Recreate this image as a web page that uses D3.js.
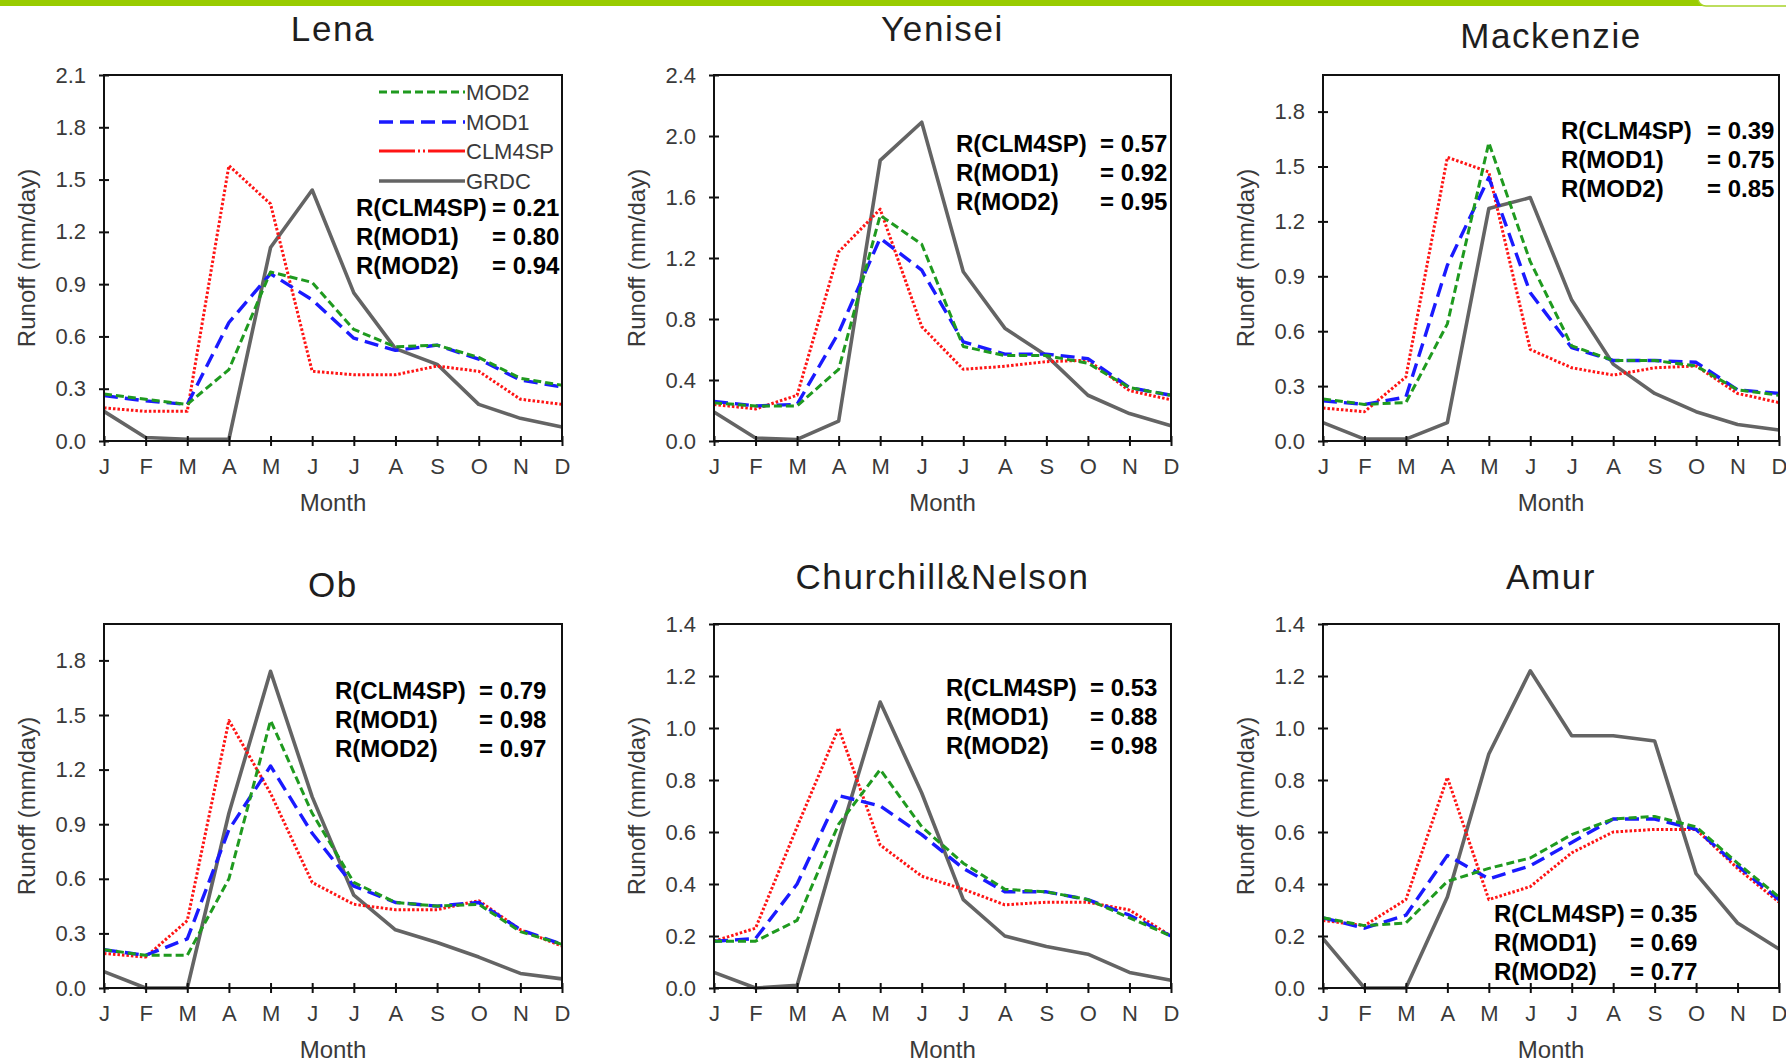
<!DOCTYPE html>
<html>
<head>
<meta charset="utf-8">
<script src="https://cdn.jsdelivr.net/npm/d3@7"></script>
<style>
  body { margin: 0; background: #fff; }
  svg { display: block; }
  text { font-family: Arial, "Liberation Sans", Helvetica, sans-serif; }
</style>
</head>
<body>
<svg id="chart" width="1786" height="1062"></svg>
<script>
// ---- data -------------------------------------------------------------
const months = ["J", "F", "M", "A", "M", "J", "J", "A", "S", "O", "N", "D"];
const basins = ["Lena", "Yenisei", "Mackenzie", "Ob", "Churchill&Nelson", "Amur"];
const yMax  = [2.1, 2.4, 2.0, 2.0, 1.4, 1.4];
const yStep = [0.3, 0.4, 0.3, 0.3, 0.2, 0.2];

// monthly mean runoff (mm/day), one row per basin in the order above
const GRDC = [
  [0.17, 0.02, 0.01, 0.01, 1.11, 1.44, 0.85, 0.53, 0.44, 0.21, 0.13, 0.08],
  [0.19, 0.02, 0.01, 0.13, 1.84, 2.09, 1.11, 0.74, 0.56, 0.30, 0.18, 0.10],
  [0.10, 0.01, 0.01, 0.10, 1.27, 1.33, 0.77, 0.42, 0.26, 0.16, 0.09, 0.06],
  [0.09, 0.00, 0.00, 0.96, 1.74, 1.05, 0.51, 0.32, 0.25, 0.17, 0.08, 0.05],
  [0.06, 0.00, 0.01, 0.57, 1.10, 0.75, 0.34, 0.20, 0.16, 0.13, 0.06, 0.03],
  [0.19, 0.00, 0.00, 0.35, 0.90, 1.22, 0.97, 0.97, 0.95, 0.44, 0.25, 0.15]
];
const CLM4SP = [
  [0.19, 0.17, 0.17, 1.58, 1.36, 0.40, 0.38, 0.38, 0.43, 0.40, 0.24, 0.21],
  [0.24, 0.21, 0.30, 1.24, 1.52, 0.75, 0.47, 0.49, 0.52, 0.53, 0.33, 0.27],
  [0.18, 0.16, 0.35, 1.55, 1.47, 0.50, 0.40, 0.36, 0.40, 0.41, 0.26, 0.21],
  [0.19, 0.17, 0.37, 1.47, 1.07, 0.58, 0.46, 0.43, 0.43, 0.48, 0.32, 0.23],
  [0.18, 0.23, 0.62, 1.00, 0.55, 0.43, 0.38, 0.32, 0.33, 0.33, 0.30, 0.20],
  [0.26, 0.24, 0.34, 0.81, 0.34, 0.39, 0.52, 0.60, 0.61, 0.61, 0.46, 0.33]
];
const MOD1 = [
  [0.26, 0.23, 0.21, 0.68, 0.96, 0.81, 0.59, 0.52, 0.55, 0.47, 0.35, 0.31],
  [0.26, 0.23, 0.24, 0.71, 1.33, 1.12, 0.65, 0.57, 0.57, 0.54, 0.35, 0.30],
  [0.22, 0.20, 0.24, 0.96, 1.44, 0.81, 0.51, 0.44, 0.44, 0.43, 0.28, 0.26],
  [0.21, 0.18, 0.27, 0.87, 1.22, 0.85, 0.56, 0.47, 0.45, 0.47, 0.32, 0.24],
  [0.18, 0.19, 0.40, 0.74, 0.70, 0.59, 0.46, 0.37, 0.37, 0.34, 0.28, 0.20],
  [0.27, 0.23, 0.28, 0.51, 0.42, 0.47, 0.56, 0.65, 0.65, 0.61, 0.47, 0.34]
];
const MOD2 = [
  [0.27, 0.24, 0.21, 0.41, 0.97, 0.91, 0.64, 0.54, 0.55, 0.48, 0.36, 0.32],
  [0.25, 0.23, 0.23, 0.47, 1.48, 1.29, 0.62, 0.56, 0.56, 0.51, 0.35, 0.30],
  [0.23, 0.20, 0.21, 0.64, 1.63, 0.98, 0.52, 0.44, 0.44, 0.41, 0.28, 0.25],
  [0.21, 0.18, 0.18, 0.60, 1.47, 0.96, 0.58, 0.47, 0.45, 0.46, 0.31, 0.24],
  [0.18, 0.18, 0.26, 0.63, 0.84, 0.62, 0.48, 0.38, 0.37, 0.34, 0.27, 0.20],
  [0.27, 0.24, 0.25, 0.41, 0.46, 0.50, 0.59, 0.65, 0.66, 0.62, 0.48, 0.35]
];

// correlation with GRDC observations
const rCLM4SP = [0.21, 0.57, 0.39, 0.79, 0.53, 0.35];
const rMOD1   = [0.80, 0.92, 0.75, 0.98, 0.88, 0.69];
const rMOD2   = [0.94, 0.95, 0.85, 0.97, 0.98, 0.77];

// ---- layout -----------------------------------------------------------
const colX0 = [104, 714, 1323], colX1 = [562, 1171, 1779];
const rowY0 = [75, 624],        rowY1 = [441, 988];
const titleY = [41, 41, 48, 597, 589, 589];
// stats block: x of "R(...)", x of "= value", y of first line
const statX  = [356, 956, 1561, 335, 946, 1494];
const statEq = [492, 1100, 1707, 479, 1090, 1630];
const statY  = [207, 143, 130, 690, 687, 913];
const statGap = 29;

const styles = [
  { name: "GRDC",   data: GRDC,   color: "#646464", width: 3.6, dash: null },
  { name: "CLM4SP", data: CLM4SP, color: "#ff1414", width: 3.0, dash: "2.5,2" },
  { name: "MOD1",   data: MOD1,   color: "#1a1aff", width: 3.4, dash: "14,7" },
  { name: "MOD2",   data: MOD2,   color: "#1f9a1f", width: 3.0, dash: "8,4" }
];

const svg = d3.select("#chart");
const fmt = d3.format(".1f");

// header band
svg.append("rect").attr("x", 0).attr("y", 0).attr("width", 1786).attr("height", 6).attr("fill", "#99cc00");
svg.append("rect").attr("x", 1698).attr("y", -12).attr("width", 100).attr("height", 18).attr("rx", 8)
  .attr("fill", "#fff").attr("stroke", "#a8d42a").attr("stroke-width", 1.5);

basins.forEach((name, i) => {
  const col = i % 3, row = Math.floor(i / 3);
  const x0 = colX0[col], x1 = colX1[col], y0 = rowY0[row], y1 = rowY1[row];
  const g = svg.append("g");

  const x = d3.scaleLinear().domain([0, 11]).range([x0, x1]);
  const y = d3.scaleLinear().domain([0, yMax[i]]).range([y1, y0]);
  const ticks = d3.range(0, yMax[i] + 1e-6, yStep[i]).filter(v => v <= yMax[i] + 1e-6);

  // title
  g.append("text").attr("x", (x0 + x1) / 2).attr("y", titleY[i])
    .attr("text-anchor", "middle").attr("font-size", 35).attr("letter-spacing", 1.6)
    .attr("fill", "#1e1e1e").text(name);

  // series
  const line = d3.line().x((d, k) => x(k)).y(d => y(d));
  styles.forEach(s => {
    g.append("path").attr("d", line(s.data[i]))
      .attr("fill", "none").attr("stroke", s.color).attr("stroke-width", s.width)
      .attr("stroke-linejoin", "round")
      .attr("stroke-dasharray", s.dash);
  });

  // frame
  g.append("rect").attr("x", x0).attr("y", y0).attr("width", x1 - x0).attr("height", y1 - y0)
    .attr("fill", "none").attr("stroke", "#111").attr("stroke-width", 2);

  // y axis
  const ya = g.append("g").attr("transform", `translate(${x0},0)`)
    .call(d3.axisLeft(y).tickValues(ticks).tickFormat(fmt).tickSizeInner(5).tickSizeOuter(0).tickPadding(13));
  ya.select(".domain").remove();
  ya.selectAll(".tick line").attr("x1", -5).attr("x2", 5).attr("stroke", "#111").attr("stroke-width", 2);
  ya.selectAll(".tick text").attr("font-size", 22).attr("fill", "#3a3a3a")
    .attr("font-family", "Arial, 'Liberation Sans', sans-serif");

  // x axis
  const xa = g.append("g").attr("transform", `translate(0,${y1})`)
    .call(d3.axisBottom(x).tickValues(d3.range(12)).tickFormat(k => months[k]).tickSizeInner(5).tickSizeOuter(0).tickPadding(12));
  xa.select(".domain").remove();
  xa.selectAll(".tick line").attr("y1", -5).attr("y2", 5).attr("stroke", "#111").attr("stroke-width", 2);
  xa.selectAll(".tick text").attr("font-size", 22).attr("fill", "#3a3a3a")
    .attr("font-family", "Arial, 'Liberation Sans', sans-serif");

  // axis titles
  g.append("text").attr("x", (x0 + x1) / 2).attr("y", y1 + 70)
    .attr("text-anchor", "middle").attr("font-size", 24).attr("fill", "#3a3a3a").text("Month");
  g.append("text")
    .attr("transform", `translate(${x0 - 78},${(y0 + y1) / 2}) rotate(-90)`)
    .attr("text-anchor", "middle").attr("dominant-baseline", "central")
    .attr("font-size", 24).attr("fill", "#3a3a3a").text("Runoff (mm/day)");

  // correlation block
  const stats = [["R(CLM4SP)", rCLM4SP[i]], ["R(MOD1)", rMOD1[i]], ["R(MOD2)", rMOD2[i]]];
  stats.forEach(([lab, v], k) => {
    const ty = statY[i] + k * statGap;
    g.append("text").attr("x", statX[i]).attr("y", ty).attr("dominant-baseline", "central")
      .attr("font-size", 24).attr("font-weight", "bold").attr("fill", "#000").text(lab);
    g.append("text").attr("x", statEq[i]).attr("y", ty).attr("dominant-baseline", "central")
      .attr("font-size", 24).attr("font-weight", "bold").attr("fill", "#000").text("= " + d3.format(".2f")(v));
  });

  // legend (first panel only)
  if (i === 0) {
    const legendOrder = ["MOD2", "MOD1", "CLM4SP", "GRDC"];
    const ly = [92, 122, 151, 181];
    legendOrder.forEach((nm, k) => {
      const s = styles.find(t => t.name === nm);
      const dash = nm === "CLM4SP" ? "36,3,2,3,2,3,60" : s.dash;
      g.append("line").attr("x1", 379).attr("x2", 465).attr("y1", ly[k]).attr("y2", ly[k])
        .attr("stroke", s.color).attr("stroke-width", s.width).attr("stroke-dasharray", dash);
      g.append("text").attr("x", 466).attr("y", ly[k]).attr("dominant-baseline", "central")
        .attr("font-size", 22).attr("fill", "#3a3a3a").text(nm);
    });
  }
});
</script>
</body>
</html>
